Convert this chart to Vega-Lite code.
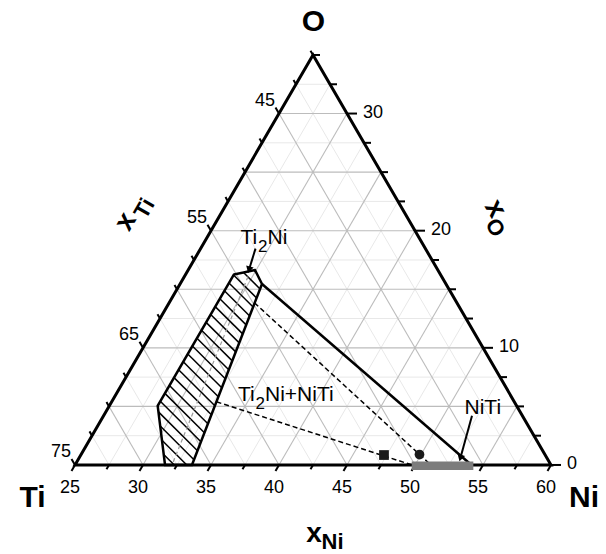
{
  "$schema": "https://vega.github.io/schema/vega-lite/v6.json",
  "width": 606,
  "height": 554,
  "autosize": {"type": "fit", "contains": "padding"},
  "padding": 0,
  "background": "white",
  "config": {"view": {"stroke": null}, "font": "Liberation Sans"},
  "encoding": {
    "x": {"field": "x", "type": "quantitative", "scale": {"domain": [19.48529, 64.04412], "nice": false, "zero": false}, "axis": null},
    "y": {"field": "y", "type": "quantitative", "scale": {"domain": [-6.36029, 34.375], "nice": false, "zero": false}, "axis": null}
  },
  "layer": [
    {
      "data": {"values": [
        {"x":26.25,"y":2.1651,"x2":58.75,"y2":2.1651},
        {"x":28.75,"y":6.4952,"x2":56.25,"y2":6.4952},
        {"x":31.25,"y":10.8253,"x2":53.75,"y2":10.8253},
        {"x":33.75,"y":15.1554,"x2":51.25,"y2":15.1554},
        {"x":36.25,"y":19.4856,"x2":48.75,"y2":19.4856},
        {"x":38.75,"y":23.8157,"x2":46.25,"y2":23.8157},
        {"x":41.25,"y":28.1458,"x2":43.75,"y2":28.1458},
        {"x":27.5,"y":0,"x2":43.75,"y2":28.1458},
        {"x":32.5,"y":0,"x2":46.25,"y2":23.8157},
        {"x":37.5,"y":0,"x2":48.75,"y2":19.4856},
        {"x":42.5,"y":0,"x2":51.25,"y2":15.1554},
        {"x":47.5,"y":0,"x2":53.75,"y2":10.8253},
        {"x":52.5,"y":0,"x2":56.25,"y2":6.4952},
        {"x":57.5,"y":0,"x2":58.75,"y2":2.1651},
        {"x":27.5,"y":0,"x2":26.25,"y2":2.1651},
        {"x":32.5,"y":0,"x2":28.75,"y2":6.4952},
        {"x":37.5,"y":0,"x2":31.25,"y2":10.8253},
        {"x":42.5,"y":0,"x2":33.75,"y2":15.1554},
        {"x":47.5,"y":0,"x2":36.25,"y2":19.4856},
        {"x":52.5,"y":0,"x2":38.75,"y2":23.8157},
        {"x":57.5,"y":0,"x2":41.25,"y2":28.1458}
      ]},
      "mark": {"type": "rule", "color": "#e8e8e8", "strokeWidth": 1},
      "encoding": {"x2": {"field": "x2"}, "y2": {"field": "y2"}}
    },
    {
      "data": {"values": [
        {"x":27.5,"y":4.3301,"x2":57.5,"y2":4.3301},
        {"x":30,"y":8.6603,"x2":55,"y2":8.6603},
        {"x":32.5,"y":12.9904,"x2":52.5,"y2":12.9904},
        {"x":35,"y":17.3205,"x2":50,"y2":17.3205},
        {"x":37.5,"y":21.6506,"x2":47.5,"y2":21.6506},
        {"x":40,"y":25.9808,"x2":45,"y2":25.9808},
        {"x":30,"y":0,"x2":45,"y2":25.9808},
        {"x":35,"y":0,"x2":47.5,"y2":21.6506},
        {"x":40,"y":0,"x2":50,"y2":17.3205},
        {"x":45,"y":0,"x2":52.5,"y2":12.9904},
        {"x":50,"y":0,"x2":55,"y2":8.6603},
        {"x":55,"y":0,"x2":57.5,"y2":4.3301},
        {"x":30,"y":0,"x2":27.5,"y2":4.3301},
        {"x":35,"y":0,"x2":30,"y2":8.6603},
        {"x":40,"y":0,"x2":32.5,"y2":12.9904},
        {"x":45,"y":0,"x2":35,"y2":17.3205},
        {"x":50,"y":0,"x2":37.5,"y2":21.6506},
        {"x":55,"y":0,"x2":40,"y2":25.9808}
      ]},
      "mark": {"type": "rule", "color": "#bcbcbc", "strokeWidth": 1.1},
      "encoding": {"x2": {"field": "x2"}, "y2": {"field": "y2"}}
    },
    {
      "data": {"values": [
        {"x":25,"y":0,"x2":24.7426,"y2":-0.4457},
        {"x":30,"y":0,"x2":29.7426,"y2":-0.4457},
        {"x":35,"y":0,"x2":34.7426,"y2":-0.4457},
        {"x":40,"y":0,"x2":39.7426,"y2":-0.4457},
        {"x":45,"y":0,"x2":44.7426,"y2":-0.4457},
        {"x":50,"y":0,"x2":49.7426,"y2":-0.4457},
        {"x":55,"y":0,"x2":54.7426,"y2":-0.4457},
        {"x":60,"y":0,"x2":59.7426,"y2":-0.4457},
        {"x":27.5,"y":0,"x2":27.3162,"y2":-0.3184},
        {"x":32.5,"y":0,"x2":32.3162,"y2":-0.3184},
        {"x":37.5,"y":0,"x2":37.3162,"y2":-0.3184},
        {"x":42.5,"y":0,"x2":42.3162,"y2":-0.3184},
        {"x":47.5,"y":0,"x2":47.3162,"y2":-0.3184},
        {"x":52.5,"y":0,"x2":52.3162,"y2":-0.3184},
        {"x":57.5,"y":0,"x2":57.3162,"y2":-0.3184},
        {"x":25,"y":0,"x2":24.7426,"y2":0.4457},
        {"x":30,"y":8.6603,"x2":29.7426,"y2":9.106},
        {"x":35,"y":17.3205,"x2":34.7426,"y2":17.7662},
        {"x":40,"y":25.9808,"x2":39.7426,"y2":26.4265},
        {"x":26.25,"y":2.1651,"x2":26.0662,"y2":2.4835},
        {"x":27.5,"y":4.3301,"x2":27.3162,"y2":4.6485},
        {"x":28.75,"y":6.4952,"x2":28.5662,"y2":6.8136},
        {"x":31.25,"y":10.8253,"x2":31.0662,"y2":11.1437},
        {"x":32.5,"y":12.9904,"x2":32.3162,"y2":13.3088},
        {"x":33.75,"y":15.1554,"x2":33.5662,"y2":15.4738},
        {"x":36.25,"y":19.4856,"x2":36.0662,"y2":19.804},
        {"x":37.5,"y":21.6506,"x2":37.3162,"y2":21.969},
        {"x":38.75,"y":23.8157,"x2":38.5662,"y2":24.1341},
        {"x":41.25,"y":28.1458,"x2":41.0662,"y2":28.4642},
        {"x":42.5,"y":30.3109,"x2":42.3162,"y2":30.6293},
        {"x":60,"y":0,"x2":60.7353,"y2":0},
        {"x":58.75,"y":2.1651,"x2":59.2647,"y2":2.1651},
        {"x":57.5,"y":4.3301,"x2":58.0147,"y2":4.3301},
        {"x":56.25,"y":6.4952,"x2":56.7647,"y2":6.4952},
        {"x":55,"y":8.6603,"x2":55.7353,"y2":8.6603},
        {"x":53.75,"y":10.8253,"x2":54.2647,"y2":10.8253},
        {"x":52.5,"y":12.9904,"x2":53.0147,"y2":12.9904},
        {"x":51.25,"y":15.1554,"x2":51.7647,"y2":15.1554},
        {"x":50,"y":17.3205,"x2":50.7353,"y2":17.3205},
        {"x":48.75,"y":19.4856,"x2":49.2647,"y2":19.4856},
        {"x":47.5,"y":21.6506,"x2":48.0147,"y2":21.6506},
        {"x":46.25,"y":23.8157,"x2":46.7647,"y2":23.8157},
        {"x":45,"y":25.9808,"x2":45.7353,"y2":25.9808},
        {"x":43.75,"y":28.1458,"x2":44.2647,"y2":28.1458},
        {"x":42.5,"y":30.3109,"x2":43.0147,"y2":30.3109}
      ]},
      "mark": {"type": "rule", "color": "black", "strokeWidth": 2},
      "encoding": {"x2": {"field": "x2"}, "y2": {"field": "y2"}}
    },
    {
      "data": {"values": [
        {"x":31.524,"y":0.776,"x2":32.3,"y2":0},
        {"x":31.395,"y":1.825,"x2":33.22,"y2":0},
        {"x":31.265,"y":2.875,"x2":33.75,"y2":0.39},
        {"x":31.136,"y":3.924,"x2":34.006,"y2":1.054},
        {"x":31.272,"y":4.708,"x2":34.261,"y2":1.719},
        {"x":31.609,"y":5.291,"x2":34.517,"y2":2.383},
        {"x":31.945,"y":5.875,"x2":34.773,"y2":3.047},
        {"x":32.282,"y":6.458,"x2":35.029,"y2":3.711},
        {"x":32.618,"y":7.041,"x2":35.284,"y2":4.376},
        {"x":32.955,"y":7.625,"x2":35.54,"y2":5.04},
        {"x":33.292,"y":8.208,"x2":35.796,"y2":5.704},
        {"x":33.629,"y":8.792,"x2":36.051,"y2":6.369},
        {"x":33.965,"y":9.375,"x2":36.307,"y2":7.033},
        {"x":34.302,"y":9.958,"x2":36.563,"y2":7.697},
        {"x":34.638,"y":10.542,"x2":36.818,"y2":8.362},
        {"x":34.975,"y":11.125,"x2":37.074,"y2":9.026},
        {"x":35.311,"y":11.708,"x2":37.33,"y2":9.69},
        {"x":35.648,"y":12.292,"x2":37.585,"y2":10.355},
        {"x":35.985,"y":12.875,"x2":37.841,"y2":11.019},
        {"x":36.322,"y":13.459,"x2":38.097,"y2":11.683},
        {"x":36.658,"y":14.042,"x2":38.353,"y2":12.347},
        {"x":37.39,"y":14.23,"x2":38.608,"y2":13.012},
        {"x":38.149,"y":14.391,"x2":38.348,"y2":14.192}
      ]},
      "mark": {"type": "rule", "color": "black", "strokeWidth": 1.5},
      "encoding": {"x2": {"field": "x2"}, "y2": {"field": "y2"}}
    },
    {
      "data": {"values": [{"x":37.721,"y":13.934,"x2":32.132,"y2":0}]},
      "mark": {"type": "rule", "color": "#9a9a9a", "strokeWidth": 1.2, "strokeDash": [4, 3]},
      "encoding": {"x2": {"field": "x2"}, "y2": {"field": "y2"}}
    },
    {
      "data": {"values": [
        {"x":38.199,"y":11.985,"x2":51.17,"y2":0},
        {"x":35.404,"y":4.669,"x2":49.779,"y2":0}
      ]},
      "mark": {"type": "rule", "color": "black", "strokeWidth": 1.5, "strokeDash": [5, 3]},
      "encoding": {"x2": {"field": "x2"}, "y2": {"field": "y2"}}
    },
    {
      "data": {"values": [{"x":38.75,"y":13.38,"x2":54.15,"y2":0}]},
      "mark": {"type": "rule", "color": "black", "strokeWidth": 2.5},
      "encoding": {"x2": {"field": "x2"}, "y2": {"field": "y2"}}
    },
    {
      "data": {"values": [
        {"x":25,"y":0,"o":1},{"x":60,"y":0,"o":2},{"x":42.5,"y":30.3109,"o":3},{"x":25,"y":0,"o":4},{"x":30,"y":0,"o":5}
      ]},
      "mark": {"type": "line", "color": "black", "strokeWidth": 3, "strokeJoin": "miter"},
      "encoding": {"order": {"field": "o", "type": "quantitative"}}
    },
    {
      "data": {"values": [
        {"x":36.68,"y":14.08,"o":1},{"x":38.24,"y":14.41,"o":2},{"x":38.75,"y":13.38,"o":3},{"x":33.6,"y":0,"o":4},
        {"x":31.62,"y":0,"o":5},{"x":31.08,"y":4.375,"o":6},{"x":36.68,"y":14.08,"o":7},{"x":38.24,"y":14.41,"o":8}
      ]},
      "mark": {"type": "line", "color": "black", "strokeWidth": 2.5, "strokeJoin": "miter"},
      "encoding": {"order": {"field": "o", "type": "quantitative"}}
    },
    {
      "data": {"values": [{"x":49.76,"y":-0.06,"x2":54.29,"y2":-0.06}]},
      "mark": {"type": "rule", "color": "#7c7c7c", "strokeWidth": 8.5, "strokeCap": "butt"},
      "encoding": {"x2": {"field": "x2"}, "y2": {"field": "y2"}}
    },
    {
      "data": {"values": [
        {"x":38.272,"y":15.993,"x2":37.794,"y2":14.434},
        {"x":54.191,"y":3.64,"x2":53.338,"y2":0.507}
      ]},
      "mark": {"type": "rule", "color": "black", "strokeWidth": 2},
      "encoding": {"x2": {"field": "x2"}, "y2": {"field": "y2"}}
    },
    {
      "data": {"values": [{"x":37.794,"y":14.434},{"x":53.338,"y":0.507}]},
      "mark": {"type": "point", "shape": "triangle-down", "filled": true, "color": "black", "size": 60, "angle": 16, "opacity": 1}
    },
    {
      "data": {"values": [{"x":47.72,"y":0.735}]},
      "mark": {"type": "point", "shape": "square", "filled": true, "color": "#1a1a1a", "size": 95, "opacity": 1}
    },
    {
      "data": {"values": [{"x":50.33,"y":0.77}]},
      "mark": {"type": "point", "shape": "circle", "filled": true, "color": "#1a1a1a", "size": 95, "opacity": 1}
    },
    {
      "data": {"values": [
        {"x":25,"y":0,"t":"25"},{"x":30,"y":0,"t":"30"},{"x":35,"y":0,"t":"35"},{"x":40,"y":0,"t":"40"},
        {"x":45,"y":0,"t":"45"},{"x":50,"y":0,"t":"50"},{"x":55,"y":0,"t":"55"},{"x":60,"y":0,"t":"60"}
      ]},
      "mark": {"type": "text", "fontSize": 18, "align": "center", "baseline": "middle", "dx": -5, "dy": 23, "color": "black"},
      "encoding": {"text": {"field": "t"}}
    },
    {
      "data": {"values": [
        {"x":25,"y":0,"t":"75"},{"x":30,"y":8.6603,"t":"65"},{"x":35,"y":17.3205,"t":"55"},{"x":40,"y":25.9808,"t":"45"}
      ]},
      "mark": {"type": "text", "fontSize": 18, "align": "right", "baseline": "middle", "dx": -4, "dy": -12.5, "color": "black"},
      "encoding": {"text": {"field": "t"}}
    },
    {
      "data": {"values": [
        {"x":60,"y":0,"t":"0"},{"x":55,"y":8.6603,"t":"10"},{"x":50,"y":17.3205,"t":"20"},{"x":45,"y":25.9808,"t":"30"}
      ]},
      "mark": {"type": "text", "fontSize": 18, "align": "left", "baseline": "middle", "dx": 16, "dy": -1, "color": "black"},
      "encoding": {"text": {"field": "t"}}
    },
    {
      "data": {"values": [
        {"x":21.875,"y":-2.463,"t":"Ti"},{"x":62.426,"y":-2.463,"t":"Ni"},{"x":42.537,"y":32.757,"t":"O"}
      ]},
      "mark": {"type": "text", "fontSize": 30, "fontWeight": "bold", "align": "center", "baseline": "middle", "color": "black"},
      "encoding": {"text": {"field": "t"}}
    },
    {
      "data": {"values": [{"x":42.574,"y":-5.11,"t":"x"}]},
      "mark": {"type": "text", "fontSize": 28, "fontWeight": "bold", "align": "center", "baseline": "middle", "color": "black"},
      "encoding": {"text": {"field": "t"}}
    },
    {
      "data": {"values": [{"x":43.934,"y":-5.699,"t":"Ni"}]},
      "mark": {"type": "text", "fontSize": 22, "fontWeight": "bold", "align": "center", "baseline": "middle", "color": "black"},
      "encoding": {"text": {"field": "t"}}
    },
    {
      "data": {"values": [{"x":28.75,"y":17.978,"t":"x"}]},
      "mark": {"type": "text", "fontSize": 28, "fontWeight": "bold", "align": "center", "baseline": "middle", "angle": -60, "color": "black"},
      "encoding": {"text": {"field": "t"}}
    },
    {
      "data": {"values": [{"x":30.11,"y":18.963,"t":"Ti"}]},
      "mark": {"type": "text", "fontSize": 22, "fontWeight": "bold", "align": "center", "baseline": "middle", "angle": -60, "color": "black"},
      "encoding": {"text": {"field": "t"}}
    },
    {
      "data": {"values": [{"x":55.882,"y":18.934,"t":"x"}]},
      "mark": {"type": "text", "fontSize": 28, "fontWeight": "bold", "align": "center", "baseline": "middle", "angle": 60, "color": "black"},
      "encoding": {"text": {"field": "t"}}
    },
    {
      "data": {"values": [{"x":55.882,"y":17.537,"t":"O"}]},
      "mark": {"type": "text", "fontSize": 22, "fontWeight": "bold", "align": "center", "baseline": "middle", "angle": 60, "color": "black"},
      "encoding": {"text": {"field": "t"}}
    },
    {
      "data": {"values": [
        {"x":37.169,"y":16.36,"t":"Ti"},{"x":36.985,"y":4.721,"t":"Ti"},{"x":53.64,"y":3.735,"t":"NiTi"}
      ]},
      "mark": {"type": "text", "fontSize": 21, "align": "left", "baseline": "alphabetic", "color": "black"},
      "encoding": {"text": {"field": "t"}}
    },
    {
      "data": {"values": [
        {"x":37.169,"y":16.36,"t":"2"},{"x":36.985,"y":4.721,"t":"2"}
      ]},
      "mark": {"type": "text", "fontSize": 17, "align": "left", "baseline": "alphabetic", "dx": 17.5, "dy": 8, "color": "black"},
      "encoding": {"text": {"field": "t"}}
    },
    {
      "data": {"values": [
        {"x":37.169,"y":16.36,"t":"Ni"},{"x":36.985,"y":4.721,"t":"Ni+NiTi"}
      ]},
      "mark": {"type": "text", "fontSize": 21, "align": "left", "baseline": "alphabetic", "dx": 27, "color": "black"},
      "encoding": {"text": {"field": "t"}}
    }
  ]
}
